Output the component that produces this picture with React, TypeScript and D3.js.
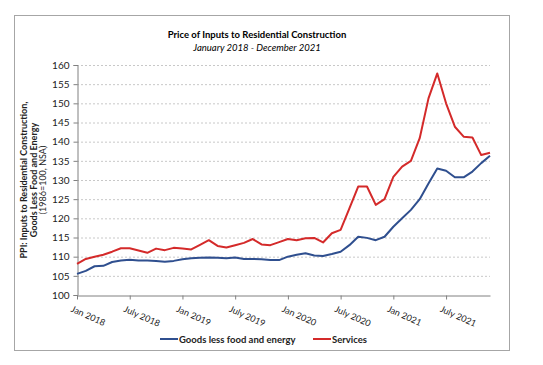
import React, { useEffect, useRef } from "react";
import * as d3 from "d3";

// monthly index values, Jan 2018 - Dec 2021
const months = d3.range(48).map((i) => new Date(2018, i, 1));
const goods = [
  105.5, 106.3, 107.5, 107.6, 108.6, 109.0, 109.2, 109.0, 109.0, 108.9, 108.7, 108.9,
  109.3, 109.6, 109.7, 109.8, 109.7, 109.6, 109.8, 109.4, 109.4, 109.3, 109.1, 109.1,
  110.0, 110.5, 110.9, 110.3, 110.2, 110.7, 111.3, 113.0, 115.2, 114.9, 114.3, 115.2,
  117.8, 120.0, 122.2, 125.0, 129.1, 133.0, 132.4, 130.7, 130.7, 132.2, 134.4, 136.3,
];
const services = [
  108.1, 109.4, 110.0, 110.5, 111.3, 112.2, 112.2, 111.6, 111.0, 112.1, 111.7, 112.3,
  112.1, 111.9, 113.1, 114.3, 112.8, 112.4, 113.0, 113.6, 114.6, 113.2, 113.0, 113.8,
  114.6, 114.3, 114.8, 114.9, 113.7, 116.1, 117.0, 122.6, 128.3, 128.3, 123.5, 125.0,
  130.8, 133.5, 135.0, 140.9, 151.3, 157.8, 150.0, 143.9, 141.3, 141.1, 136.5, 137.1,
];
const xTickLabels = [
  "Jan 2018", "July 2018", "Jan 2019", "July 2019",
  "Jan 2020", "July 2020", "Jan 2021", "July 2021",
];
const yTicks = d3.range(100, 161, 5);

const App = () => {
  const svgRef = useRef<SVGSVGElement>(null);

  useEffect(() => {
    const font = "Lato, 'Open Sans', sans-serif";
    const svg = d3.select(svgRef.current);
    svg.selectAll("*").remove();

    const left = 77, right = 490, top = 65, bottom = 295;

    const x = d3.scaleLinear().domain([0, months.length - 1]).range([left, right]);
    const y = d3.scaleLinear().domain([100, 160]).range([bottom, top]);

    // frame
    svg.append("rect")
      .attr("x", 14.5).attr("y", 15.5)
      .attr("width", 495).attr("height", 335)
      .attr("fill", "#fff")
      .attr("stroke", "#a6a6a6");

    // titles
    svg.append("text")
      .attr("x", 257).attr("y", 38)
      .attr("text-anchor", "middle")
      .attr("font-family", font).attr("font-size", 9.5).attr("font-weight", "bold")
      .text("Price of Inputs to Residential Construction");
    svg.append("text")
      .attr("x", 257).attr("y", 51)
      .attr("text-anchor", "middle")
      .attr("font-family", font).attr("font-size", 9.5).attr("font-style", "italic")
      .text("January 2018 - December 2021");

    // grid
    svg.append("g")
      .selectAll("line")
      .data(yTicks.filter((d) => d > 100))
      .join("line")
      .attr("x1", left).attr("x2", right)
      .attr("y1", (d) => y(d) + 0.5).attr("y2", (d) => y(d) + 0.5)
      .attr("stroke", "#c8c8c8")
      .attr("stroke-dasharray", "2,2");

    // y axis
    const yAxis = svg.append("g")
      .attr("transform", "translate(" + (left + 0.5) + ",0)")
      .call(d3.axisLeft(y).tickValues(yTicks).tickSize(4).tickPadding(4));
    yAxis.select(".domain").attr("stroke", "#808080");
    yAxis.selectAll(".tick line").attr("stroke", "#808080");
    yAxis.selectAll("text")
      .attr("font-family", font).attr("font-size", 10).attr("fill", "#222");

    // x axis
    const tickIdx = d3.range(0, 48, 6);
    const xAxis = svg.append("g")
      .attr("transform", "translate(0," + (bottom + 0.5) + ")")
      .call(d3.axisBottom(x).tickValues(tickIdx).tickSize(4).tickSizeOuter(0)
        .tickFormat((d, i) => xTickLabels[i]));
    xAxis.select(".domain").attr("stroke", "#808080");
    xAxis.selectAll(".tick line").attr("stroke", "#808080");
    xAxis.selectAll("text")
      .attr("font-family", font).attr("font-size", 9).attr("fill", "#222")
      .attr("text-anchor", "start")
      .attr("transform", "translate(-1,2) rotate(24)")
      .attr("dy", "0.9em");

    // y axis title
    const yt = svg.append("text")
      .attr("transform", "translate(27,180) rotate(-90)")
      .attr("text-anchor", "middle")
      .attr("font-family", font).attr("font-size", 9).attr("fill", "#222");
    yt.append("tspan").attr("x", 0).attr("y", 0).attr("font-weight", "bold")
      .text("PPI: Inputs to Residential Construction,");
    yt.append("tspan").attr("x", 0).attr("y", 9.5).attr("font-weight", "bold")
      .text("Goods Less Food and Energy");
    yt.append("tspan").attr("x", 0).attr("y", 19)
      .text("(1986=100, NSA)");

    // lines
    const line = d3.line<number>()
      .x((d, i) => x(i))
      .y((d) => y(d));

    svg.append("path")
      .datum(goods)
      .attr("fill", "none")
      .attr("stroke", "#2f4f8f")
      .attr("stroke-width", 2)
      .attr("stroke-linejoin", "round")
      .attr("d", line);

    svg.append("path")
      .datum(services)
      .attr("fill", "none")
      .attr("stroke", "#d42a2a")
      .attr("stroke-width", 2)
      .attr("stroke-linejoin", "round")
      .attr("d", line);

    // legend
    const legend = [
      { name: "Goods less food and energy", color: "#2f4f8f", x: 160 },
      { name: "Services", color: "#d42a2a", x: 313 },
    ];
    const lg = svg.append("g").selectAll("g").data(legend).join("g");
    lg.append("line")
      .attr("x1", (d) => d.x).attr("x2", (d) => d.x + 18)
      .attr("y1", 339).attr("y2", 339)
      .attr("stroke", (d) => d.color).attr("stroke-width", 2);
    lg.append("text")
      .attr("x", (d) => d.x + 19).attr("y", 342.5)
      .attr("font-family", font).attr("font-size", 9.5).attr("font-weight", "bold")
      .attr("fill", "#222")
      .text((d) => d.name);
  }, []);

  return (
    <svg
      ref={svgRef}
      width={543}
      height={365}
      style={{ position: "absolute", left: 0, top: 0, background: "#fff" }}
    ></svg>
  );
};

export default App;
